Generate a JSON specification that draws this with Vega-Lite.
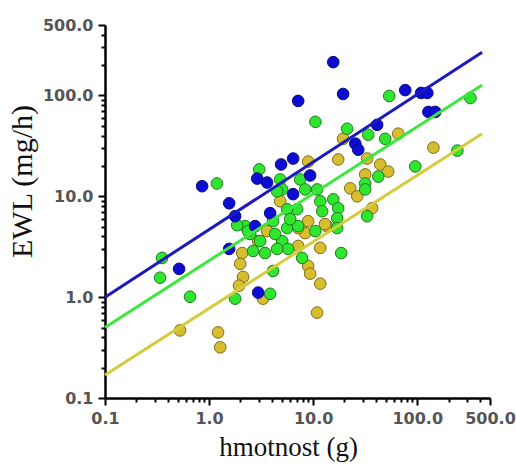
{
  "$schema": "https://vega.github.io/schema/vega-lite/v6.json",
  "width": 385,
  "height": 373,
  "autosize": {"type": "none"},
  "padding": {"left": 105, "top": 25, "right": 26, "bottom": 70},
  "background": "white",
  "config": {"view": {"stroke": null}},
  "datasets": {
    "points": [
      {"series": "yellow", "x": 65.6, "y": 41.8},
      {"series": "yellow", "x": 143, "y": 30.4},
      {"series": "yellow", "x": 19.4, "y": 37.2},
      {"series": "yellow", "x": 8.95, "y": 22.1},
      {"series": "yellow", "x": 17.4, "y": 23.2},
      {"series": "yellow", "x": 33.0, "y": 23.7},
      {"series": "yellow", "x": 44.1, "y": 20.7},
      {"series": "yellow", "x": 52.6, "y": 17.6},
      {"series": "yellow", "x": 31.6, "y": 16.5},
      {"series": "yellow", "x": 22.7, "y": 12.0},
      {"series": "yellow", "x": 26.5, "y": 10.0},
      {"series": "yellow", "x": 36.9, "y": 7.62},
      {"series": "yellow", "x": 8.95, "y": 5.67},
      {"series": "yellow", "x": 13.6, "y": 5.06},
      {"series": "yellow", "x": 8.38, "y": 4.32},
      {"series": "yellow", "x": 4.82, "y": 8.93},
      {"series": "yellow", "x": 7.18, "y": 3.22},
      {"series": "yellow", "x": 11.7, "y": 3.08},
      {"series": "yellow", "x": 8.95, "y": 2.04},
      {"series": "yellow", "x": 9.35, "y": 1.71},
      {"series": "yellow", "x": 11.7, "y": 1.36},
      {"series": "yellow", "x": 10.9, "y": 0.703},
      {"series": "yellow", "x": 3.61, "y": 4.52},
      {"series": "yellow", "x": 2.96, "y": 3.60},
      {"series": "yellow", "x": 2.08, "y": 2.74},
      {"series": "yellow", "x": 1.99, "y": 2.14},
      {"series": "yellow", "x": 2.12, "y": 1.59},
      {"series": "yellow", "x": 1.94, "y": 1.30},
      {"series": "yellow", "x": 3.30, "y": 0.966},
      {"series": "yellow", "x": 0.526, "y": 0.468},
      {"series": "yellow", "x": 1.22, "y": 0.447},
      {"series": "yellow", "x": 1.28, "y": 0.318},
      {"series": "yellow", "x": 7.18, "y": 4.84},
      {"series": "yellow", "x": 13.0, "y": 5.30},
      {"series": "green", "x": 53.8, "y": 98.9},
      {"series": "green", "x": 324, "y": 94.4},
      {"series": "green", "x": 10.5, "y": 54.8},
      {"series": "green", "x": 21.2, "y": 46.8},
      {"series": "green", "x": 33.8, "y": 40.8},
      {"series": "green", "x": 49.2, "y": 37.2},
      {"series": "green", "x": 243, "y": 28.4},
      {"series": "green", "x": 95.7, "y": 19.8},
      {"series": "green", "x": 3.03, "y": 18.5},
      {"series": "green", "x": 1.19, "y": 13.4},
      {"series": "green", "x": 4.82, "y": 14.7},
      {"series": "green", "x": 7.50, "y": 14.7},
      {"series": "green", "x": 31.6, "y": 13.4},
      {"series": "green", "x": 42.2, "y": 15.7},
      {"series": "green", "x": 31.6, "y": 11.7},
      {"series": "green", "x": 5.04, "y": 11.7},
      {"series": "green", "x": 8.38, "y": 11.7},
      {"series": "green", "x": 10.9, "y": 11.7},
      {"series": "green", "x": 11.7, "y": 8.93},
      {"series": "green", "x": 15.6, "y": 9.34},
      {"series": "green", "x": 17.4, "y": 7.62},
      {"series": "green", "x": 12.2, "y": 7.11},
      {"series": "green", "x": 17.0, "y": 6.07},
      {"series": "green", "x": 7.02, "y": 7.45},
      {"series": "green", "x": 5.62, "y": 7.45},
      {"series": "green", "x": 33.0, "y": 6.35},
      {"series": "green", "x": 5.62, "y": 4.84},
      {"series": "green", "x": 7.18, "y": 5.06},
      {"series": "green", "x": 10.5, "y": 4.52},
      {"series": "green", "x": 17.0, "y": 4.84},
      {"series": "green", "x": 5.04, "y": 3.60},
      {"series": "green", "x": 5.75, "y": 3.01},
      {"series": "green", "x": 18.6, "y": 2.74},
      {"series": "green", "x": 7.83, "y": 2.45},
      {"series": "green", "x": 4.51, "y": 11.2},
      {"series": "green", "x": 2.22, "y": 5.06},
      {"series": "green", "x": 4.12, "y": 5.67},
      {"series": "green", "x": 2.48, "y": 4.23},
      {"series": "green", "x": 4.31, "y": 4.23},
      {"series": "green", "x": 1.86, "y": 5.17},
      {"series": "green", "x": 2.37, "y": 4.52},
      {"series": "green", "x": 2.65, "y": 2.87},
      {"series": "green", "x": 3.45, "y": 2.74},
      {"series": "green", "x": 4.51, "y": 3.01},
      {"series": "green", "x": 0.353, "y": 2.45},
      {"series": "green", "x": 0.338, "y": 1.56},
      {"series": "green", "x": 0.656, "y": 1.01},
      {"series": "green", "x": 1.78, "y": 0.966},
      {"series": "green", "x": 3.86, "y": 1.08},
      {"series": "green", "x": 4.12, "y": 1.82},
      {"series": "green", "x": 3.09, "y": 3.60},
      {"series": "green", "x": 6.01, "y": 5.93},
      {"series": "blue", "x": 15.6, "y": 214},
      {"series": "blue", "x": 19.4, "y": 103.5},
      {"series": "blue", "x": 7.18, "y": 88.3},
      {"series": "blue", "x": 76.7, "y": 113},
      {"series": "blue", "x": 109, "y": 106},
      {"series": "blue", "x": 125, "y": 106},
      {"series": "blue", "x": 128, "y": 68.7},
      {"series": "blue", "x": 149, "y": 68.7},
      {"series": "blue", "x": 41.2, "y": 51.2},
      {"series": "blue", "x": 25.4, "y": 33.3},
      {"series": "blue", "x": 27.1, "y": 29.0},
      {"series": "blue", "x": 6.42, "y": 23.7},
      {"series": "blue", "x": 4.92, "y": 20.7},
      {"series": "blue", "x": 9.35, "y": 16.1},
      {"series": "blue", "x": 0.857, "y": 12.6},
      {"series": "blue", "x": 2.90, "y": 15.0},
      {"series": "blue", "x": 3.61, "y": 13.7},
      {"series": "blue", "x": 6.42, "y": 10.5},
      {"series": "blue", "x": 1.56, "y": 8.53},
      {"series": "blue", "x": 1.78, "y": 6.35},
      {"series": "blue", "x": 3.86, "y": 6.81},
      {"series": "blue", "x": 2.77, "y": 5.06},
      {"series": "blue", "x": 1.56, "y": 3.01},
      {"series": "blue", "x": 0.515, "y": 1.91},
      {"series": "blue", "x": 2.96, "y": 1.11}
    ],
    "lines": [
      {"series": "blue", "x": 0.1, "y": 1.0},
      {"series": "blue", "x": 420, "y": 268},
      {"series": "green", "x": 0.1, "y": 0.5},
      {"series": "green", "x": 420, "y": 127},
      {"series": "yellow", "x": 0.1, "y": 0.169},
      {"series": "yellow", "x": 420, "y": 41.8}
    ]
  },
  "encoding": {
    "x": {
      "field": "x", "type": "quantitative",
      "scale": {"type": "log", "domain": [0.1, 500], "nice": false},
      "axis": {
        "title": "hmotnost (g)",
        "values": [0.1,0.2,0.3,0.4,0.5,0.6,0.7,0.8,0.9,1,2,3,4,5,6,7,8,9,10,20,30,40,50,60,70,80,90,100,200,300,400,500],
        "labelExpr": "indexof([0.1,1,10,100,500], datum.value) >= 0 ? format(datum.value, '.1f') : ''",
        "tickSize": {"condition": {"test": "indexof([0.1,1,10,100,500], datum.value) >= 0", "value": 7}, "value": 4},
        "grid": false,
        "domainColor": "black", "domainWidth": 2.5,
        "tickColor": "black", "tickWidth": 2,
        "labelFlush": false, "labelOverlap": false,
        "labelFont": "DejaVu Sans", "labelFontWeight": "bold", "labelFontSize": 16, "labelColor": "#555555",
        "labelPadding": 5,
        "titleFont": "Liberation Serif", "titleFontWeight": "normal", "titleFontSize": 27, "titleColor": "#111",
        "titlePadding": 8, "titleX": 183
      }
    },
    "y": {
      "field": "y", "type": "quantitative",
      "scale": {"type": "log", "domain": [0.1, 500], "nice": false},
      "axis": {
        "title": "EWL (mg/h)",
        "values": [0.1,0.2,0.3,0.4,0.5,0.6,0.7,0.8,0.9,1,2,3,4,5,6,7,8,9,10,20,30,40,50,60,70,80,90,100,200,300,400,500],
        "labelExpr": "indexof([0.1,1,10,100,500], datum.value) >= 0 ? format(datum.value, '.1f') : ''",
        "tickSize": {"condition": {"test": "indexof([0.1,1,10,100,500], datum.value) >= 0", "value": 7}, "value": 4},
        "grid": false,
        "domainColor": "black", "domainWidth": 2.5,
        "tickColor": "black", "tickWidth": 2,
        "labelFlush": false, "labelOverlap": false,
        "labelFont": "DejaVu Sans", "labelFontWeight": "bold", "labelFontSize": 16, "labelColor": "#555555",
        "labelPadding": 5,
        "titleFont": "Liberation Serif", "titleFontWeight": "normal", "titleFontSize": 30, "titleColor": "#111",
        "titleX": -83, "titleY": 156, "titleBaseline": "middle", "titleAngle": -90
      }
    }
  },
  "layer": [
    {
      "data": {"name": "points"},
      "mark": {"type": "point", "shape": "circle", "filled": true, "size": 135, "opacity": 1, "strokeWidth": 1},
      "encoding": {
        "fill": {"field": "series", "type": "nominal", "legend": null,
                 "scale": {"domain": ["blue", "green", "yellow"], "range": ["#0c0cd2", "#2ee62e", "#d6be2e"]}},
        "stroke": {"field": "series", "type": "nominal", "legend": null,
                   "scale": {"domain": ["blue", "green", "yellow"], "range": ["#0a0a80", "#1f7a1f", "#7d6b1a"]}}
      }
    },
    {
      "data": {"name": "lines"},
      "mark": {"type": "line", "strokeWidth": 3},
      "encoding": {
        "color": {"field": "series", "type": "nominal", "legend": null,
                  "scale": {"domain": ["blue", "green", "yellow"], "range": ["#1a1ac0", "#3ce83c", "#d4cc3c"]}}
      }
    }
  ]
}
